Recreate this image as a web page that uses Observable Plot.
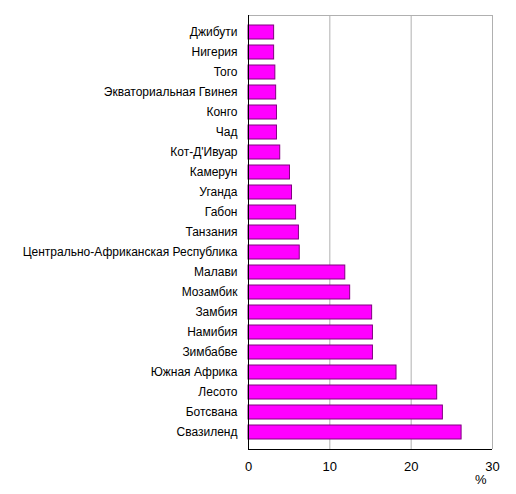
<!DOCTYPE html>
<html><head><meta charset="utf-8">
<script src="https://cdn.jsdelivr.net/npm/d3@7"></script>
<script src="https://cdn.jsdelivr.net/npm/@observablehq/plot@0.6"></script>
<style>body{margin:0;background:#fff;font-family:"Liberation Sans",Arial,sans-serif}</style>
</head><body><div id="chart"></div>
<script>
const countries = ["Джибути","Нигерия","Того","Экваториальная Гвинея","Конго","Чад","Кот-Д'Ивуар","Камерун","Уганда","Габон","Танзания","Центрально-Африканская Республика","Малави","Мозамбик","Замбия","Намибия","Зимбабве","Южная Африка","Лесото","Ботсвана","Свазиленд"];
const values = [3.15,3.15,3.3,3.4,3.5,3.5,3.9,5.1,5.35,5.85,6.2,6.3,11.9,12.5,15.2,15.3,15.3,18.2,23.2,23.9,26.2];
const xTicks = [0,10,20,30];
const data = countries.map((c,i)=>({country:c,value:values[i]}));

function hLine(side, color) {
  return (index, scales, values, dim) => {
    const {width, height, marginLeft, marginRight, marginTop, marginBottom} = dim;
    const y = side === "top" ? marginTop + 0.5 : height - marginBottom + 0.5;
    return d3.create("svg:line")
      .attr("x1", marginLeft).attr("x2", width - marginRight)
      .attr("y1", y).attr("y2", y)
      .attr("stroke", color).attr("stroke-width", 1.2)
      .node();
  };
}

const chart = Plot.plot({
  width:516, height:494,
  marginLeft:248, marginRight:24, marginTop:15, marginBottom:45,
  style:{fontFamily:"'Liberation Sans', Arial, sans-serif", fontSize:"12px", color:"#000", background:"#fff"},
  x:{domain:[0,30], ticks:xTicks, label:null},
  y:{domain:countries, paddingInner:0.32, paddingOuter:0.2, label:null},
  marks:[
    Plot.ruleX([10,20,30],{stroke:"#b0b0b0"}),
    hLine("top", "#b0b0b0"),
    Plot.barX(data,{y:"country", x:"value", fill:"#ff00ff", stroke:"#800080", strokeWidth:1}),
    Plot.ruleX([0],{stroke:"#000"}),
    hLine("bottom", "#000"),
    Plot.axisY({tickSize:0, tickPadding:11, fontSize:12}),
    Plot.axisX({tickSize:0, tickPadding:12, fontSize:13}),
    Plot.text(["%"],{frameAnchor:"bottom-right", dx:-6, dy:34, fontSize:13})
  ]
});
document.getElementById("chart").appendChild(chart);
</script></body></html>
